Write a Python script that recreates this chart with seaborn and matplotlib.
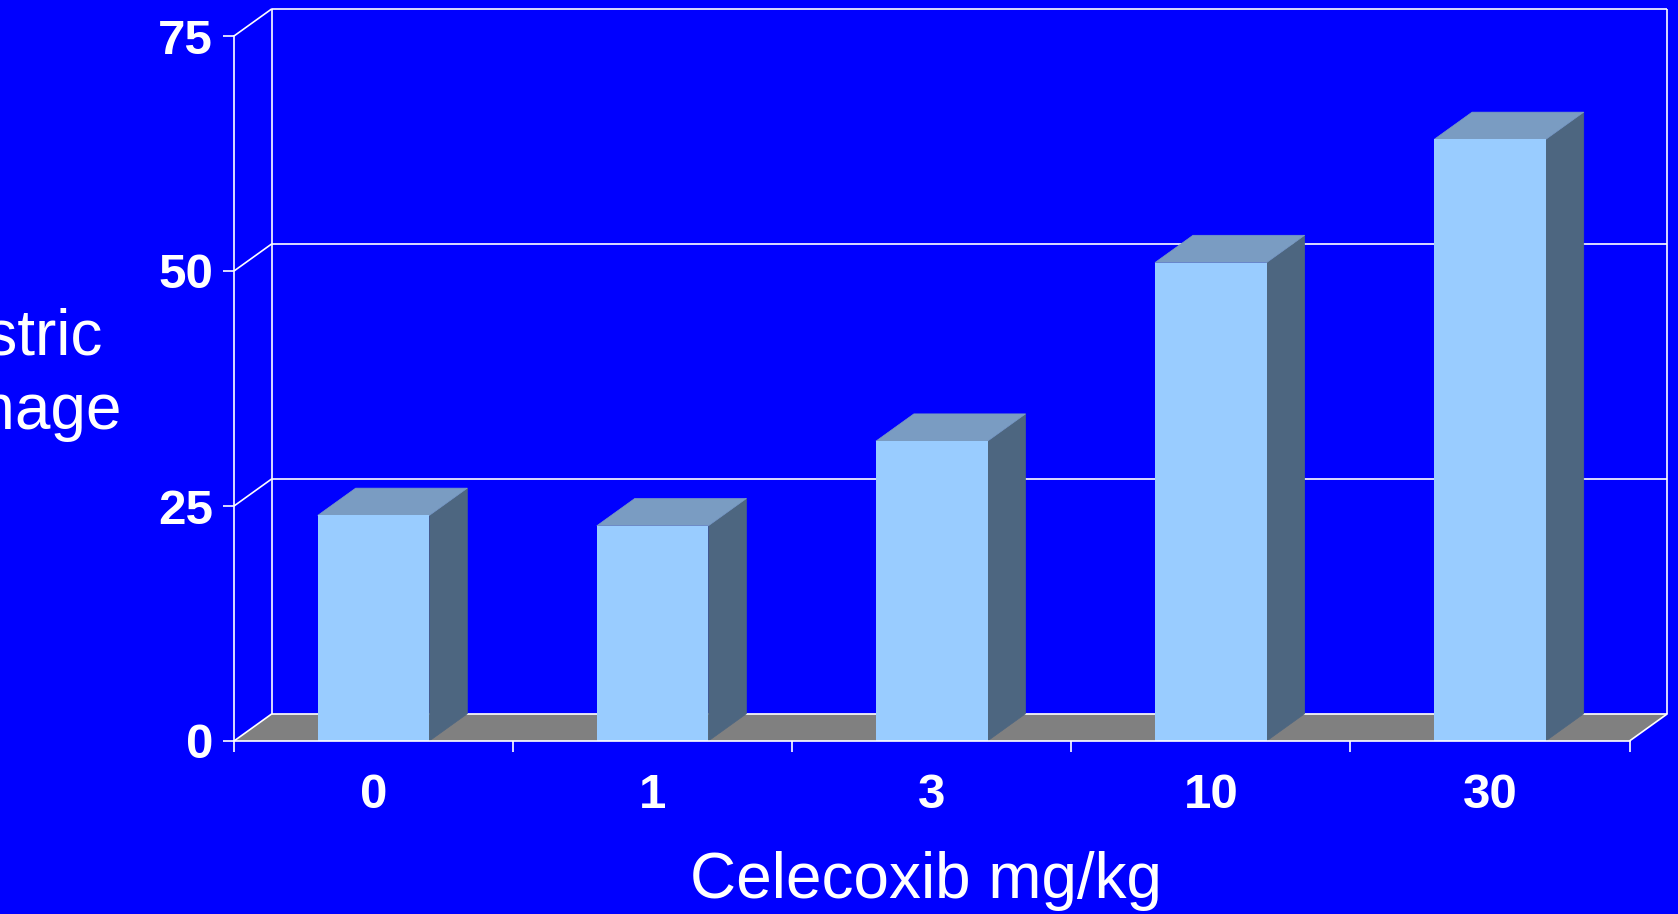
import numpy as np
import pandas as pd
import matplotlib
matplotlib.use('Agg')
import matplotlib.pyplot as plt
from matplotlib.patches import Polygon
import seaborn as sns

doses = ['0', '1', '3', '10', '30']
damage = [24.0, 22.9, 31.9, 50.9, 64.0]
y_ticks = [0, 25, 50, 75]

bg = '#0000FF'
front = '#99CCFF'
top = '#7A9CC2'
side = '#4D6680'
floor = '#808080'

# how far the fake 3d box goes back, in data units
dx = 0.136
dy = 2.9

sns.set_theme(style='white', rc={
    'figure.facecolor': bg,
    'axes.facecolor': bg,
    'axes.edgecolor': 'white',
    'xtick.color': 'white',
    'ytick.color': 'white',
})
plt.rcParams['font.family'] = ['Liberation Sans', 'DejaVu Sans']

W, H = 1678, 914
fig = plt.figure(figsize=(W / 100, H / 100), dpi=100)
ax = fig.add_axes([234 / W, 1 - 741 / H, (1629.5 - 234) / W, (741 - 36) / H])

data = pd.DataFrame({'dose': doses, 'damage': damage})
sns.barplot(data=data, x='dose', y='damage', color=front, saturation=1, width=0.4,
            linewidth=0, ax=ax, zorder=4)
ax.set_xlim(-0.5, 4.5)
ax.set_ylim(0, 75)
bars = list(ax.patches)

# floor
ax.add_patch(Polygon([(-0.5, 0), (-0.5 + dx, dy), (4.5 + dx, dy), (4.5, 0)], closed=True,
                     facecolor=floor, edgecolor='none', clip_on=False, zorder=1))

# back wall, gridlines and the diagonals to the front axis
line_kw = dict(color='white', lw=1.2, clip_on=False, zorder=2, solid_capstyle='butt')
for v in y_ticks:
    ax.plot([-0.5 + dx, 4.5 + dx], [v + dy, v + dy], **line_kw)
    ax.plot([-0.5, -0.5 + dx], [v, v + dy], **line_kw)
ax.plot([-0.5 + dx, -0.5 + dx], [dy, 75 + dy], **line_kw)
ax.plot([4.5 + dx, 4.5 + dx], [dy, 75 + dy], **line_kw)
ax.plot([4.5, 4.5 + dx], [0, dy], **line_kw)

# sides and tops of the bars, thin edge in own colour so no blue shows at the seams
for bar in bars:
    x0 = bar.get_x()
    x1 = x0 + bar.get_width()
    h = bar.get_height()
    ax.add_patch(Polygon([(x1, 0), (x1 + dx, dy), (x1 + dx, h + dy), (x1, h)], closed=True,
                         facecolor=side, edgecolor=side, lw=0.5, clip_on=False, zorder=3))
    ax.add_patch(Polygon([(x0, h), (x0 + dx, h + dy), (x1 + dx, h + dy), (x1, h)], closed=True,
                         facecolor=top, edgecolor=top, lw=0.5, clip_on=False, zorder=3))

sns.despine(ax=ax, top=True, right=True)
for s in ['left', 'bottom']:
    ax.spines[s].set_linewidth(1.2)
    ax.spines[s].set_zorder(6)

ax.set_yticks(y_ticks)
ax.set_yticklabels(y_ticks, fontsize=35.5, fontweight='bold', color='white')
ax.tick_params(axis='y', length=8, width=1.2, pad=7, left=True)

# ticks between the groups, labels under the groups
ax.set_xticks(np.arange(len(doses) + 1) - 0.5)
ax.set_xticklabels([])
ax.set_xticks(np.arange(len(doses)), labels=doses, minor=True)
ax.tick_params(axis='x', which='major', length=8, width=1.2, bottom=True)
ax.tick_params(axis='x', which='minor', length=0, pad=23, bottom=False,
               labelsize=35.5, labelcolor='white')
for t in ax.get_xticklabels(minor=True):
    t.set_fontweight('bold')

ax.set_xlabel('')
ax.set_ylabel('')
fig.text(926 / W, 1 - 881 / H, 'Celecoxib mg/kg', fontsize=46, color='white',
         ha='center', va='center')
fig.text(1.5 / W, 1 - 375 / H, 'Gastric\nDamage', fontsize=46, color='white',
         ha='center', va='center', linespacing=1.3)

fig.savefig('out.png', dpi=100, facecolor=bg)
